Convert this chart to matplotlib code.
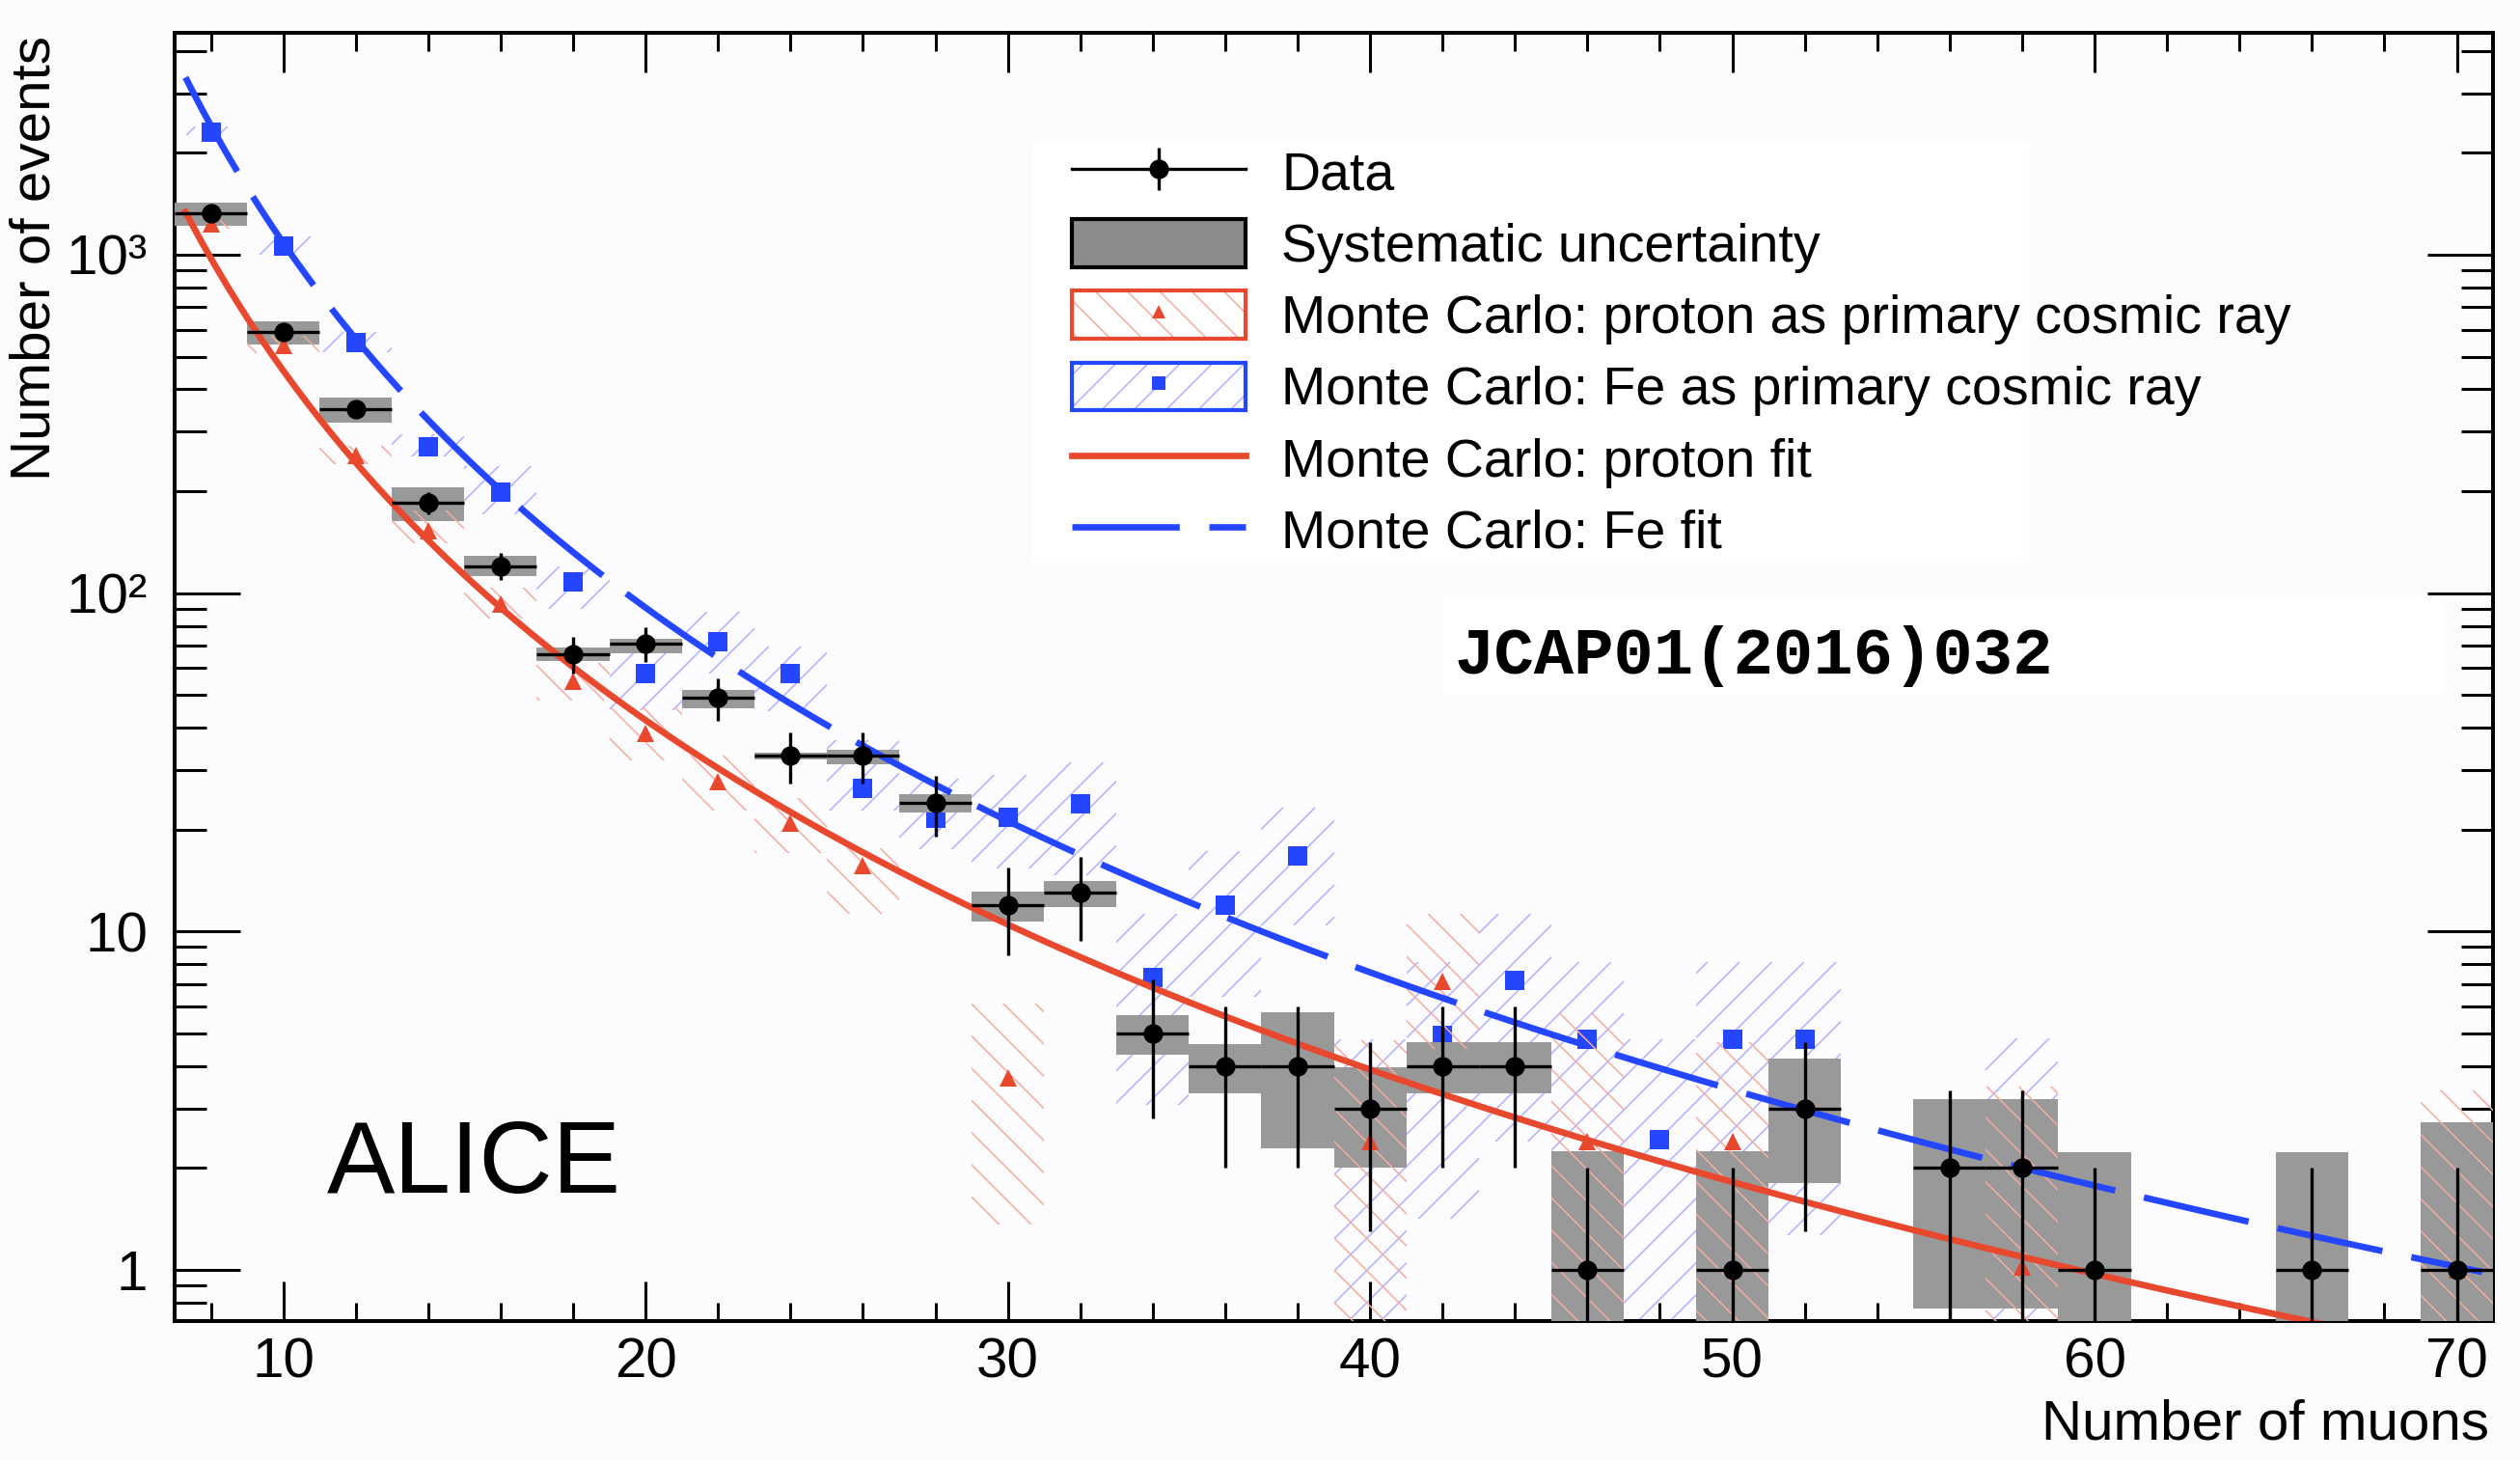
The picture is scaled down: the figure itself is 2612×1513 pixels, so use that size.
import numpy as np
import matplotlib
matplotlib.use("Agg")
import matplotlib.pyplot as plt
from matplotlib.patches import Patch, Rectangle
from matplotlib.lines import Line2D
from matplotlib.legend_handler import HandlerTuple
from matplotlib.ticker import MultipleLocator, LogLocator, FixedLocator, FixedFormatter, NullFormatter

plt.rcParams['font.family'] = ['Liberation Sans', 'DejaVu Sans']
plt.rcParams['hatch.linewidth'] = 0.55

nan = np.nan

# Bin centres (bin width 2 muons)
n_muons = np.array([8, 10, 12, 14, 16, 18, 20, 22, 24, 26, 28, 30, 32, 34, 36, 38,
                    40, 42, 44, 46, 48, 50, 52, 54, 56, 58, 60, 62, 64, 66, 68, 70])

# Data, statistical error, systematic band
data = np.array([1330, 590, 350, 185, 120, 66, 71, 49, 33, 33, 24, 12, 13, 5, 4, 4,
                 3, 4, 4, 1, nan, 1, 3, nan, 2, 2, 1, nan, nan, 1, nan, 1])
stat_err = np.array([36.5, 24.3, 18.7, 13.6, 11.0, 8.1, 8.4, 7.0, 5.7, 5.7, 4.9, 3.5, 3.6, 2.2, 2.0, 2.0,
                     1.7, 2.0, 2.0, 1.0, nan, 1.0, 1.7, nan, 1.4, 1.4, 1.0, nan, nan, 1.0, nan, 1.0])
sys_lo = np.array([1216, 543, 319, 163, 112, 63, 66.5, 45.8, 32.3, 31.3, 22.5, 10.7, 11.8, 4.33, 3.32, 2.29,
                   2.0, 3.32, 3.32, 0.1, nan, 0.1, 1.80, nan, 0.77, 0.77, 0.1, nan, nan, 0.1, nan, 0.1])
sys_hi = np.array([1429, 637, 378, 205, 129, 69, 73.4, 51.7, 33.7, 34.5, 25.4, 13.1, 14.1, 5.67, 4.66, 5.76,
                   3.97, 4.71, 4.71, 2.24, nan, 2.24, 4.22, nan, 3.2, 3.2, 2.22, nan, nan, 2.22, nan, 2.73])

# Monte Carlo: proton primaries
p_mc = np.array([1236, 539, 255, 153, 93, 55, 38.5, 27.7, 20.9, 15.7, nan, 3.7, nan, nan, nan, nan,
                 2.39, 7.1, nan, 2.39, nan, 2.39, nan, nan, nan, 1.02, nan, nan, nan, nan, nan, 1.0])
p_lo = np.array([1190, 511, 240, 140, 84, 48, 32, 22.8, 17.1, 11.3, nan, 1.36, nan, nan, nan, nan,
                 0.1, 4.5, nan, 0.1, nan, 0.1, nan, nan, nan, 0.1, nan, nan, nan, nan, nan, 0.1])
p_hi = np.array([1290, 575, 272, 176, 104, 62, 46, 33, 24.8, 17.6, nan, 6.12, nan, nan, nan, nan,
                 4.78, 11.3, nan, 5.73, nan, 4.7, nan, nan, nan, 3.48, nan, nan, nan, nan, nan, 3.39])

# Monte Carlo: Fe primaries
fe_mc = np.array([2306, 1060, 550, 271, 199, 108, 57.8, 71.8, 57.8, 26.5, 21.6, 21.7, 23.8, 7.31, 12.0, 16.7,
                  nan, 4.93, 7.18, 4.81, 2.42, 4.81, 4.81, nan, nan, nan, nan, nan, nan, nan, nan, nan])
fe_lo = np.array([2255, 1000, 515, 254, 171, 90, 45, 58, 44.8, 22.8, 17.5, 15.4, 14.7, 3.07, 6.4, 10.4,
                  0.1, 1.42, 2.4, 1.5, 0.1, 1.5, 1.27, nan, nan, 0.1, nan, nan, nan, nan, nan, nan])
fe_hi = np.array([2400, 1130, 590, 294, 237, 120, 72, 88, 69.5, 36.8, 28.3, 29, 31.6, 11.3, 17.3, 23.2,
                  4.8, 8.1, 11.3, 8.1, 4.8, 8.1, 8.1, nan, nan, 4.83, nan, nan, nan, nan, nan, nan])

# Power-law fits N = norm * (n/10)^-index
p_fit_norm, p_fit_index, p_fit_range = 454.0, 3.43, (7.3, 71.0)
fe_fit_norm, fe_fit_index, fe_fit_range = 1083.0, 3.58, (7.3, 70.7)

red = '#e8482d'
blue = '#2446ff'
red_hatch = '#f5aba0'
blue_hatch = '#b0b0ff'
bg = '#fcfbfd'

fig = plt.figure(figsize=(13.06, 7.565), dpi=200, facecolor=bg)
ax = fig.add_axes([0.0693, 0.0952, 0.9893 - 0.0693, 0.9775 - 0.0952], facecolor=bg)
ax.set_yscale('log')


def band(lo, hi, color, hatch, z):
    m = ~np.isnan(lo)
    ax.bar(n_muons[m], hi[m] - lo[m], bottom=lo[m], width=2, fill=False, hatch=hatch,
           edgecolor=color, linewidth=0, zorder=z)


# Fe band and points (below systematic boxes)
band(fe_lo, fe_hi, blue_hatch, '//', 1)
ax.plot(n_muons, fe_mc, 's', color=blue, ms=7, mew=0, zorder=2)

# systematic uncertainty boxes
m = ~np.isnan(sys_lo)
ax.bar(n_muons[m], sys_hi[m] - sys_lo[m], bottom=sys_lo[m], width=2, color='#999999',
       linewidth=0, zorder=3)

# proton band and points
band(p_lo, p_hi, red_hatch, '\\\\', 4)
ax.plot(n_muons, p_mc, '^', color=red, ms=6.5, mew=0, zorder=5)

# fits
xf = np.linspace(p_fit_range[0], p_fit_range[1], 400)
ax.plot(xf, p_fit_norm * (xf / 10) ** (-p_fit_index), color=red, lw=2.4, zorder=6)
xf = np.linspace(fe_fit_range[0], fe_fit_range[1], 400)
ax.plot(xf, fe_fit_norm * (xf / 10) ** (-fe_fit_index), color=blue, lw=2.4,
        dashes=(16.7, 4.6), zorder=6)

# data
m = ~np.isnan(data)
err_lo = np.minimum(stat_err[m], data[m] * 0.999)
ax.errorbar(n_muons[m], data[m], xerr=1, yerr=[err_lo, stat_err[m]], fmt='o', color='k',
            ms=6.3, elinewidth=1.2, capsize=0, zorder=7)

# axes
ax.set_xlim(7, 71)
ax.set_ylim(0.706, 4525)
ax.xaxis.set_major_locator(MultipleLocator(10))
ax.xaxis.set_minor_locator(MultipleLocator(2))
ax.yaxis.set_major_locator(FixedLocator([1, 10, 100, 1000]))
ax.yaxis.set_major_formatter(FixedFormatter(['1', '10', '10²', '10³']))
ax.yaxis.set_minor_locator(LogLocator(base=10, subs=np.arange(2, 10), numticks=20))
ax.yaxis.set_minor_formatter(NullFormatter())
ax.tick_params(which='both', direction='in', top=True, right=True, width=1.1, labelsize=21)
ax.tick_params(axis='x', which='major', length=14.8, pad=6)
ax.tick_params(axis='x', which='minor', length=6.8)
ax.tick_params(axis='y', which='major', length=24.5, pad=10)
ax.tick_params(axis='y', which='minor', length=12)
for s in ax.spines.values():
    s.set_linewidth(1.45)

fig.text(0.9877, 0.0145, 'Number of muons', ha='right', va='baseline', fontsize=21)
fig.text(0.0140, 0.9758, 'Number of events', ha='center', va='top', rotation=90, fontsize=21)

ax.text(0.0655, 0.0996, 'ALICE', transform=ax.transAxes, fontsize=38, ha='left', va='baseline')

# legend
ax.add_patch(Rectangle((0.370, 0.589), 0.430, 0.326, transform=ax.transAxes,
                       facecolor='white', edgecolor='none', zorder=9))
h_data = (Line2D([0], [0], color='k', lw=1.2, marker='o', ms=6.3),
          Line2D([0], [0], ls='none', marker='|', ms=15.5, mew=1.2, color='k'))
h_sys = Patch(facecolor='#8c8c8c', edgecolor='k', lw=1.5)
h_p = (Patch(facecolor='white', edgecolor=red_hatch, hatch='\\\\', lw=0),
       Patch(facecolor='none', edgecolor=red, lw=1.5),
       Line2D([0], [0], ls='none', marker='^', ms=5, mew=0, color=red))
h_fe = (Patch(facecolor='white', edgecolor=blue_hatch, hatch='//', lw=0),
        Patch(facecolor='none', edgecolor=blue, lw=1.5),
        Line2D([0], [0], ls='none', marker='s', ms=5, mew=0, color=blue))
h_pfit = Line2D([0], [0], color=red, lw=2.4)
h_fefit = Line2D([0], [0], color=blue, lw=2.4, dashes=(16.7, 4.6))
leg = ax.legend([h_data, h_sys, h_p, h_fe, h_pfit, h_fefit],
                ['Data', 'Systematic uncertainty', 'Monte Carlo: proton as primary cosmic ray',
                 'Monte Carlo: Fe as primary cosmic ray', 'Monte Carlo: proton fit', 'Monte Carlo: Fe fit'],
                handler_map={tuple: HandlerTuple(ndivide=1)},
                loc='upper left', bbox_to_anchor=(0.387, 0.911), frameon=False, borderpad=0,
                borderaxespad=0, handlelength=3.24, handleheight=1.0, handletextpad=0.67,
                labelspacing=0.33, fontsize=20)
leg.set_zorder(10)

# journal reference
fig.patches.append(Rectangle((0.5727, 0.5242), 0.3967, 0.0661, transform=fig.transFigure,
                             facecolor='white', edgecolor='none', zorder=11))
fig.text(0.5772, 0.5385, 'JCAP01(2016)032', fontsize=24.8, fontweight='bold',
         family=['Liberation Mono', 'DejaVu Sans Mono'], ha='left', va='baseline', zorder=12)

fig.savefig('out.png', dpi=200, facecolor=bg)
